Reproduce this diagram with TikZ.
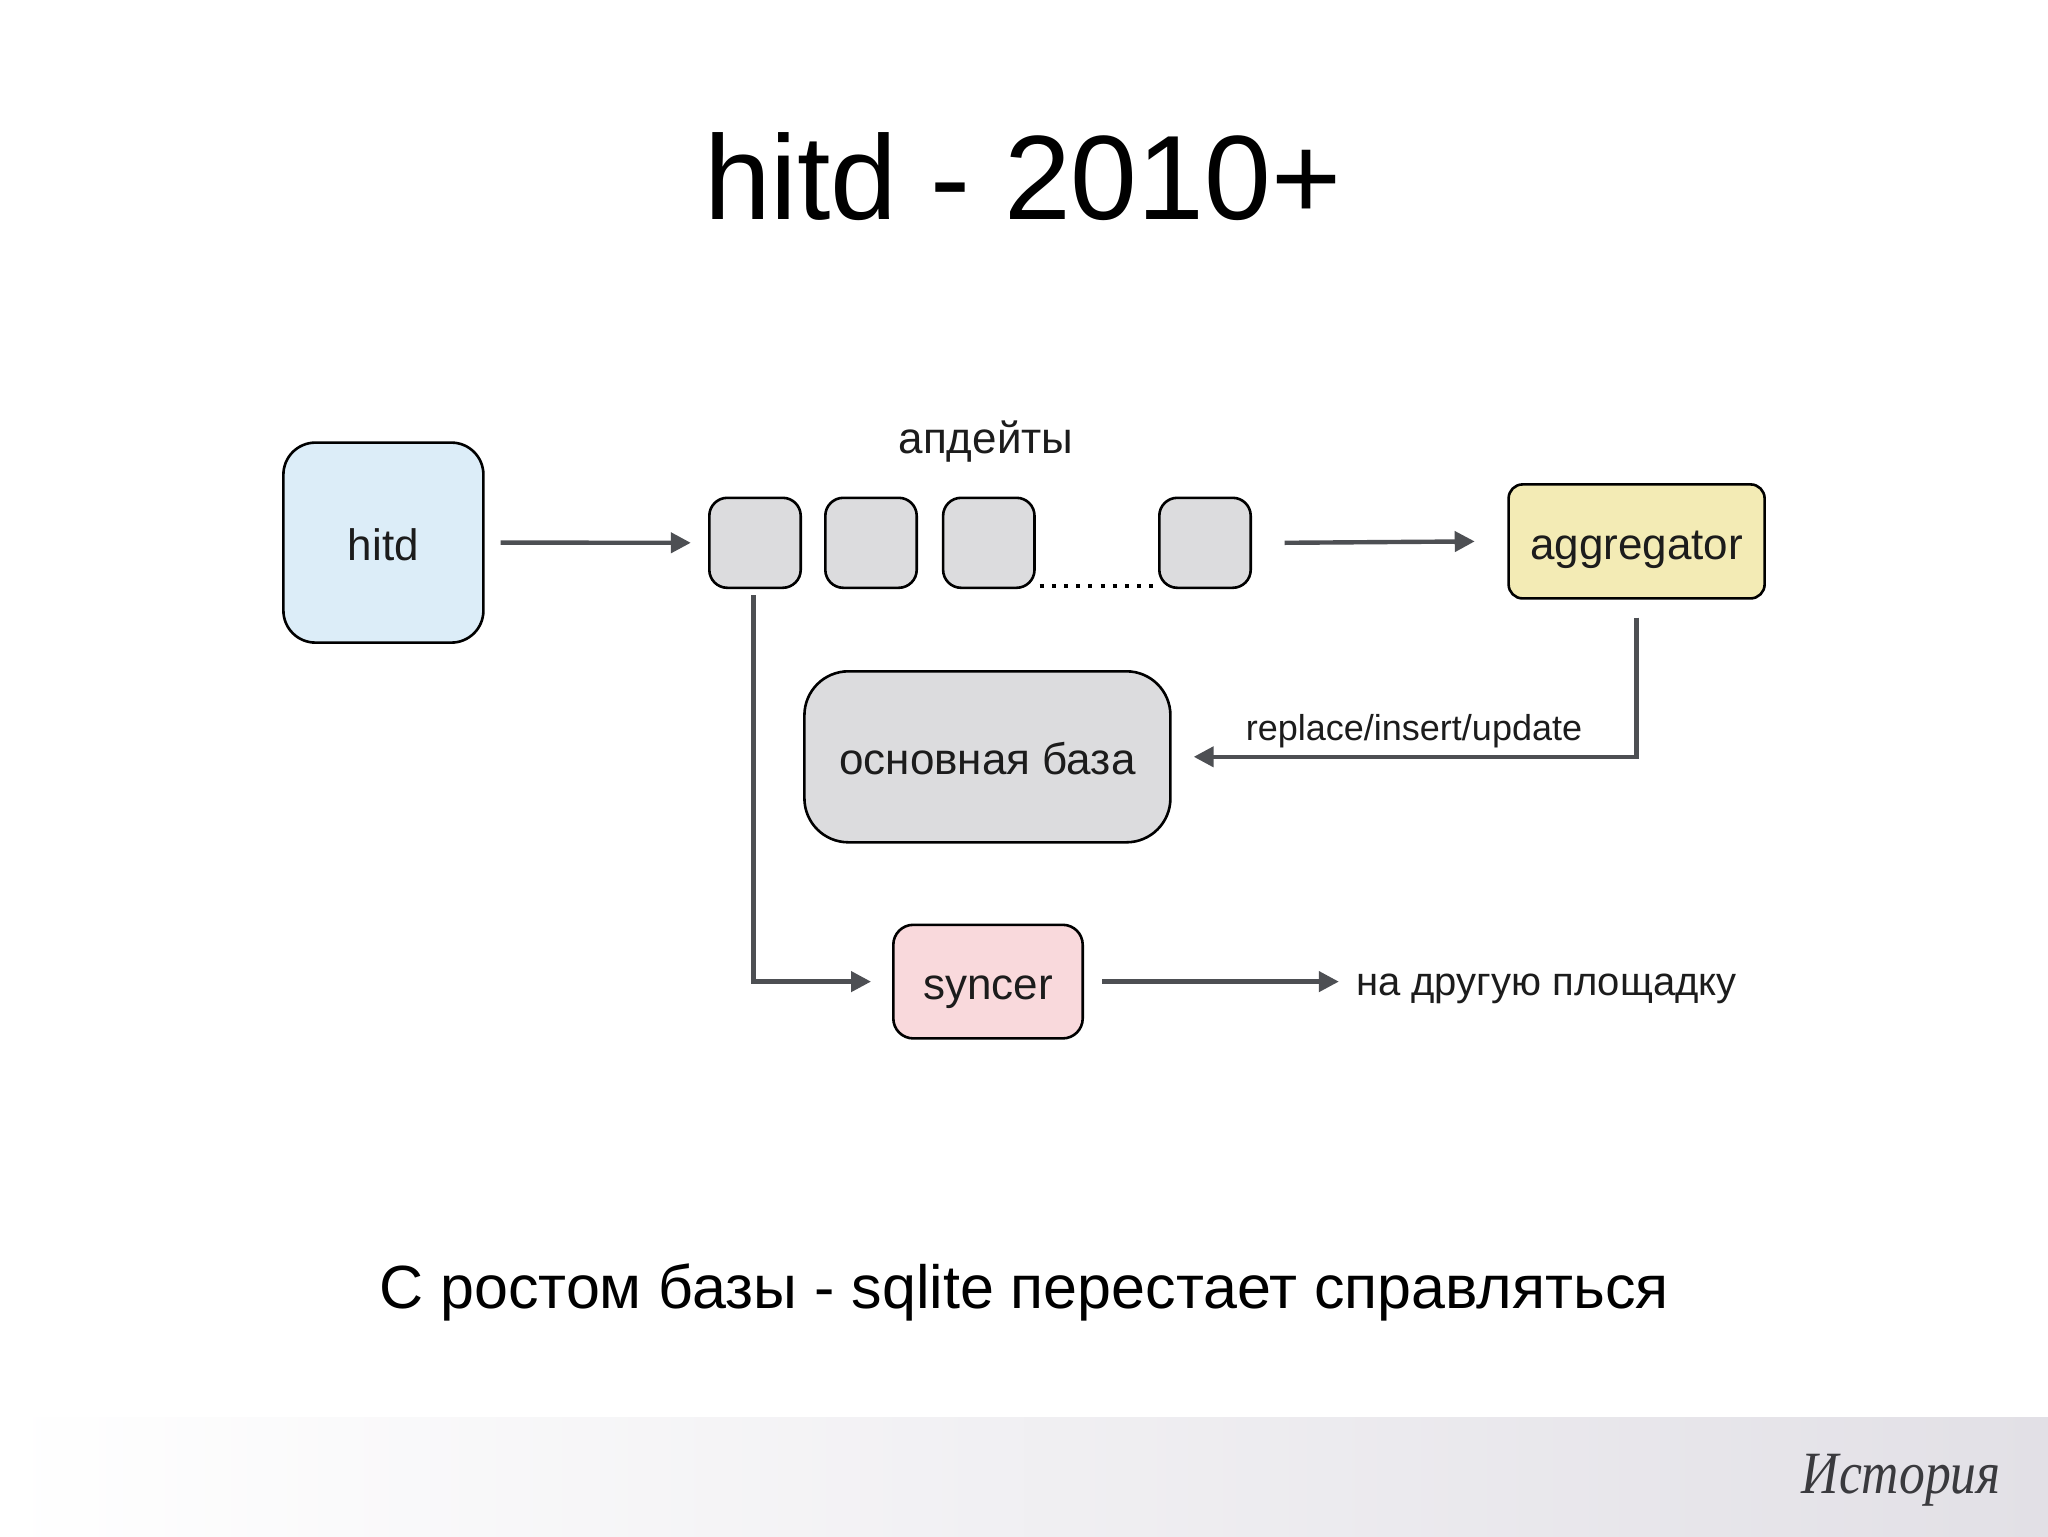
\documentclass[tikz,border=0pt]{standalone}
\usepackage{fontspec}
\setmainfont{Liberation Sans}
\newfontfamily\histfont{Liberation Serif}
\usetikzlibrary{arrows.meta}
\definecolor{arrowgray}{RGB}{77,79,83}
\definecolor{hitdblue}{RGB}{220,237,248}
\definecolor{boxgray}{RGB}{220,220,222}
\definecolor{agggold}{RGB}{243,235,181}
\definecolor{syncpink}{RGB}{249,217,220}
\definecolor{footgray}{RGB}{226,224,230}
\definecolor{labelblack}{RGB}{28,28,28}
\definecolor{histgray}{RGB}{58,58,62}
\begin{document}
\begin{tikzpicture}[x=1pt,y=-1pt,
  box/.style={draw=black, line width=1.3pt, align=center, inner sep=0pt,
    text=labelblack, font=\fontsize{22}{26}\selectfont, text height=20pt, text depth=2pt},
  qbox/.style={box, fill=boxgray, minimum width=45.7pt, minimum height=45pt, rounded corners=9pt},
  conn/.style={draw=arrowgray, line width=2.2pt, -{Triangle[length=10pt,width=10pt]}},
  plain/.style={text=labelblack, inner sep=0pt}]
\useasboundingbox (0,0) rectangle (1024,768);
\fill[white] (0,0) rectangle (1024,768);
\shade[left color=white, right color=footgray] (0,708.6) rectangle (1024,768);

% title
\node[plain, text=black, anchor=base, font=\fontsize{60}{70}\selectfont] (title) at (511.4,109.7) {hitd - 2010+};

% nodes
\node[box, fill=hitdblue, minimum width=100pt, minimum height=100pt, rounded corners=16pt] (hitd) at (191.7,271.3) {hitd};
\node[qbox] (q1) at (377.5,271.4) {};
\node[qbox] (q2) at (435.5,271.4) {};
\node[qbox] (q3) at (494.4,271.4) {};
\node[qbox] (q4) at (602.5,271.4) {};
\node[plain, anchor=base, font=\fontsize{22}{26}\selectfont] (upd) at (493,226.6) {апдейты};
\node[box, fill=agggold, minimum width=128pt, minimum height=57pt, rounded corners=7pt] (agg) at (818.3,270.7) {aggregator};
\node[box, fill=boxgray, minimum width=183pt, minimum height=85.5pt, rounded corners=22pt] (db) at (493.7,378.4) {основная база};
\node[box, fill=syncpink, minimum width=94.7pt, minimum height=56.8pt, rounded corners=10pt] (sync) at (494,490.8) {syncer};
\node[plain, anchor=base, font=\fontsize{18}{22}\selectfont] (rlabel) at (707,370.3) {replace/insert/update};
\node[plain, anchor=base west, font=\fontsize{20}{24}\selectfont] (dest) at (677.9,497.6) {на другую площадку};
\node[plain, text=black, anchor=base, font=\fontsize{30.5}{36}\selectfont] (note) at (512,654.4) {С ростом базы - sqlite перестает справляться};
\node[plain, text=histgray, anchor=base east, font=\histfont\itshape\fontsize{30}{36}\selectfont] (hist) at (1000.5,746.5) {\scalebox{0.86}[1]{История}};

% dotted ellipsis
\coordinate (dotsL) at (519.8,293);
\coordinate (dotsR) at (577.3,293);
\draw[line width=2pt, dash pattern=on 2pt off 4.09pt] (dotsL) -- (dotsR);

% connectors
\draw[conn] ([xshift=8pt]hitd.east) -- ([xshift=-8.6pt]q1.west);
\draw[conn] ([xshift=16.3pt]q4.east) -- ([xshift=-16.3pt]agg.west);
\draw[conn] ([yshift=-9pt]agg.south) |- ([xshift=11pt]db.east);
\draw[conn] ([xshift=-0.7pt,yshift=-3pt]q1.south) |- ([xshift=-10.5pt]sync.west);
\coordinate (destend) at (669.4,490.8);
\draw[conn] ([xshift=9pt]sync.east) -- (destend);
\end{tikzpicture}
\end{document}
